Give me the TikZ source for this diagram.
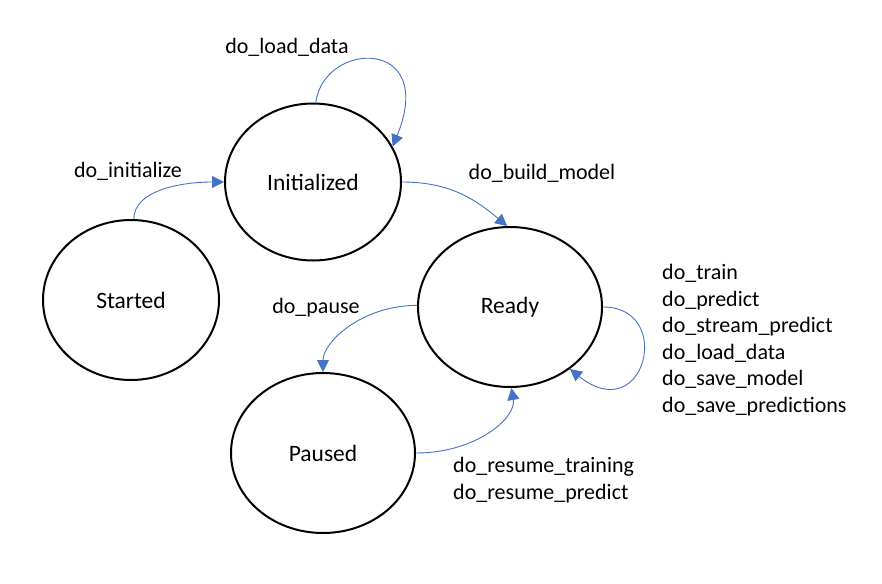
\documentclass[tikz,border=0pt]{standalone}
\usepackage{fontspec}
\setmainfont{Carlito}
\usetikzlibrary{shapes.geometric,arrows.meta}
\definecolor{edgeblue}{HTML}{4472C4}
\begin{document}
\begin{tikzpicture}[x=1pt,y=-1pt,
  state/.style={ellipse,draw=black,line width=2pt,inner sep=0pt,minimum width=176pt,minimum height=160pt,font=\fontsize{23.5}{28}\selectfont},
  trans/.style={draw=edgeblue,line width=0.9pt,-{Triangle[length=12pt,width=12pt]}},
  lbl/.style={font=\fontsize{22}{26.6}\selectfont,inner sep=0pt}]
\useasboundingbox (0,0) rectangle (882,583);
\node[state] (S) at (131,300) {Started};
\node[state,minimum height=157pt] (I) at (313,182) {Initialized};
\node[state,minimum width=184pt] (R) at (510,307) {Ready};
\node[state,minimum width=184pt] (P) at (323,453) {Paused};

\draw[trans] (S.88) .. controls +(0,-28) and +(-45,0) .. (I.180);
\draw[trans] (I.88) .. controls +(8,-62) and +(45,-110) .. (I.24);
\draw[trans] (I.0) .. controls +(50,0) and +(-30,-25) .. (R.92);
\draw[trans] (R.179) .. controls +(-55,0) and +(0,-30) .. (P.90);
\draw[trans] (P.0) .. controls +(60,0) and +(5,30) .. (R.-89);
\draw[trans] (R.0) .. controls +(72,0) and +(75,60) .. (R.-46);

\node[lbl] (l1) at (287,47) {do\_load\_data};
\node[lbl] (l2) at (128,171) {do\_initialize};
\node[lbl] (l3) at (542,173) {do\_build\_model};
\node[lbl] (l4) at (316,308) {do\_pause};
\node[lbl,anchor=north west,align=left] (l5) at (662,264) {do\_train\\do\_predict\\do\_stream\_predict\\do\_load\_data\\do\_save\_model\\do\_save\_predictions};
\node[lbl,anchor=north west,align=left] (l6) at (453,457) {do\_resume\_training\\do\_resume\_predict};
\end{tikzpicture}
\end{document}
